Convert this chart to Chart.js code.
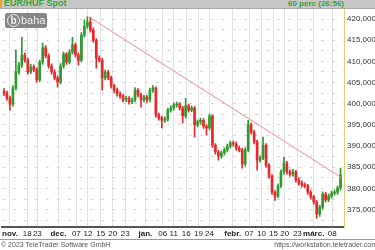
<!DOCTYPE html>
<html>
<head>
<meta charset="utf-8">
<script src="https://cdn.jsdelivr.net/npm/chart.js@4.4.0/dist/chart.umd.min.js"></script>
<style>
  body { margin: 0; background: #fff; }
  #wrap { position: relative; width: 375px; height: 250px; overflow: hidden; font-family: "Liberation Sans", Arial, sans-serif; }
  #head { position: absolute; left: 0; top: 0; width: 375px; height: 8px; background: #c6c6c6; border-bottom: 1px solid #a8a8a8; overflow: hidden; }
  #head .mark { position: absolute; left: 0; top: 0; width: 2px; height: 8px; background: #f0a020; }
  #head .title { position: absolute; left: 4px; top: -2px; font-size: 9px; line-height: 11px; font-weight: bold; color: #37a337; }
  #head .per { position: absolute; right: 31px; top: -2px; font-size: 8px; line-height: 11px; font-weight: bold; color: #37a337; }
  #logo { position: absolute; left: 5px; top: 13px; width: 42px; height: 15px; background: rgba(105,105,105,0.8); border-radius: 2px; }
  #logo .b { position: absolute; left: 2px; top: 1px; width: 11px; height: 11px; border: 1px solid #eee; border-radius: 50%; color: #eee; font-size: 10px; font-weight: bold; line-height: 11px; text-align: center; }
  #logo .t { position: absolute; left: 16px; top: 0px; color: #eee; font-size: 11px; line-height: 15px; }
  #foot { position: absolute; left: 0; top: 239px; width: 375px; height: 11px; border-top: 1px solid #9a9a9a; font-size: 7px; color: #555; line-height: 10px; }
  #foot .l { position: absolute; left: 1px; }
  #foot .r { position: absolute; right: -2px; }
</style>
</head>
<body>
<div id="wrap">
  <canvas id="myChart" width="375" height="250"></canvas>
  <div id="head"><div class="mark"></div><span class="title">EUR/HUF Spot</span><span class="per">60 perc (26:56)</span></div>
  <div id="logo"><div class="b">b</div><div class="t">baha</div></div>
  <div id="foot"><span class="l">© 2023 TeleTrader Software GmbH</span><span class="r">https://workstation.teletrader.com</span></div>
</div>
<script>
const opens = [403.0, 402.5, 401.3, 399.9, 403.7, 407.5, 409.1, 411.5, 410.3, 407.5,
  408.7, 408.0, 405.6, 409.8, 413.2, 411.3, 408.9, 407.5, 406.1, 405.1,
  408.9, 411.7, 409.8, 412.2, 413.9, 411.5, 410.3, 416.2, 418.3, 419.3,
  417.4, 415.0, 410.8, 410.3, 406.1, 407.5, 406.1, 404.2, 403.2, 402.3,
  401.8, 400.9, 401.3, 400.4, 400.9, 403.2, 402.1, 400.9, 401.6, 400.9,
  403.2, 403.7, 397.3, 396.6, 396.1, 396.4, 398.5, 399.0, 399.7, 399.9,
  399.0, 397.1, 399.5, 398.5, 399.0, 395.0, 395.7, 396.1, 394.7, 394.3,
  397.1, 390.2, 388.6, 387.6, 388.4, 389.1, 390.0, 390.7, 390.5, 389.5,
  389.1, 385.8, 389.1, 395.0, 393.3, 391.0, 386.7, 387.2, 390.2, 385.5,
  382.9, 379.1, 378.2, 380.6, 383.9, 386.0, 383.9, 383.4, 383.9, 382.0,
  381.3, 380.8, 380.6, 379.1, 378.0, 376.8, 373.9, 375.6, 378.7, 377.3,
  378.2, 378.9, 379.1, 380.1];
const closes = [402.5, 401.3, 399.9, 403.7, 407.5, 409.1, 411.5, 410.3, 407.5, 408.7,
  408.0, 405.6, 409.8, 413.2, 411.3, 408.9, 407.5, 406.1, 405.1, 408.9,
  411.7, 409.8, 412.2, 413.9, 411.5, 410.3, 416.2, 418.3, 419.3, 417.4,
  415.0, 410.8, 410.3, 406.1, 407.5, 406.1, 404.2, 403.2, 402.3, 401.8,
  400.9, 401.3, 400.4, 400.9, 403.2, 402.1, 400.9, 401.6, 400.9, 403.2,
  403.7, 397.3, 396.6, 396.1, 396.4, 398.5, 399.0, 399.7, 399.9, 399.0,
  397.1, 399.5, 398.5, 399.0, 395.0, 395.7, 396.1, 394.7, 394.3, 397.1,
  390.2, 388.6, 387.6, 388.4, 389.1, 390.0, 390.7, 390.5, 389.5, 389.1,
  385.8, 389.1, 395.0, 393.3, 391.0, 386.7, 387.2, 390.2, 385.5, 382.9,
  379.1, 378.2, 380.6, 383.9, 386.0, 383.9, 383.4, 383.9, 382.0, 381.3,
  380.8, 380.6, 379.1, 378.0, 376.8, 373.9, 375.6, 378.7, 377.3, 378.2,
  378.9, 379.1, 380.1, 383.2];
const highs = [403.6, 403.0, 401.8, 404.3, 412.7, 409.8, 415.7, 412.0, 410.8, 409.3,
  409.2, 408.5, 410.3, 414.3, 413.7, 411.8, 409.4, 408.0, 406.6, 409.5,
  412.2, 412.1, 412.8, 415.7, 414.3, 412.0, 416.8, 419.8, 420.5, 420.4,
  417.9, 415.4, 411.3, 410.7, 408.0, 407.9, 406.5, 404.6, 403.7, 402.8,
  402.2, 401.8, 401.7, 401.4, 403.8, 403.6, 402.5, 402.0, 402.0, 403.7,
  404.3, 404.0, 397.8, 397.0, 396.9, 399.0, 399.5, 400.2, 400.4, 400.3,
  399.4, 401.3, 399.9, 399.5, 399.3, 396.2, 396.6, 396.5, 395.1, 397.6,
  397.4, 390.6, 389.0, 388.9, 389.6, 390.5, 391.2, 391.2, 391.0, 390.0,
  389.5, 389.6, 396.1, 395.5, 393.7, 391.4, 387.7, 392.1, 390.6, 385.9,
  383.3, 379.5, 381.1, 384.4, 387.4, 386.4, 384.4, 384.5, 384.3, 382.5,
  381.8, 381.3, 381.0, 379.5, 378.4, 377.2, 376.1, 379.2, 379.1, 378.7,
  379.4, 379.6, 380.6, 384.8];
const lows = [401.9, 400.8, 398.5, 399.4, 403.2, 407.0, 408.6, 409.8, 407.0, 407.1,
  407.5, 405.1, 405.2, 409.3, 410.8, 408.4, 407.0, 405.6, 403.9, 404.7,
  408.4, 409.3, 409.4, 411.7, 411.0, 409.1, 409.9, 415.7, 417.8, 416.9,
  414.5, 408.4, 409.8, 403.2, 405.6, 405.6, 403.7, 402.7, 401.8, 401.3,
  400.4, 400.5, 399.9, 400.0, 400.4, 401.6, 399.2, 400.4, 400.3, 400.4,
  402.7, 396.8, 396.1, 394.3, 395.6, 395.9, 398.0, 398.5, 399.2, 398.5,
  395.4, 396.6, 398.0, 398.1, 392.1, 394.5, 395.2, 394.2, 392.6, 393.8,
  389.7, 388.1, 386.7, 387.1, 387.9, 388.6, 389.5, 390.0, 389.0, 388.6,
  384.8, 385.3, 388.6, 392.8, 390.5, 384.3, 386.2, 386.8, 385.0, 382.4,
  378.6, 377.2, 377.8, 380.1, 383.4, 383.4, 382.9, 382.9, 381.5, 380.8,
  380.3, 380.1, 378.6, 377.5, 376.3, 373.0, 373.4, 375.1, 376.8, 376.9,
  377.7, 378.4, 378.6, 379.6];

// resistance line, [candle index, price] at both ends
const trendX = [28.5, 113.2];
const trendY = [420.5, 382.6];

// bottom axis: candle index of each label
const xTickPos = [2, 7.8, 11.2, 18.3, 24.3, 28.2, 32.5, 36.5, 40.7, 47.5, 53.3, 57, 61.2,
  65.3, 69, 76.8, 82.3, 86.5, 90.5, 94.3, 98.5, 104, 110.2];
const xTickLabels = ["nov.", "18", "23", "dec.", "07", "12", "15", "20", "23", "jan.", "06", "11", "16",
  "19", "24", "febr.", "07", "10", "15", "20", "23", "márc.", "08"];
const yTicks = [372.5, 375, 377.5, 380, 382.5, 385, 387.5, 390, 392.5, 395, 397.5,
  400, 402.5, 405, 407.5, 410, 412.5, 415, 417.5, 420];

const up = "#2f9a2f";
const down = "#e8292b";
const candleColors = closes.map((c, i) => c >= opens[i] ? up : down);

new Chart("myChart", {
  type: "bar",
  data: {
    datasets: [{
      data: lows.map((l, i) => ({ x: i, y: [l, highs[i]] })),
      backgroundColor: candleColors,
      barThickness: 1,
      grouped: false,
      order: 2
    }, {
      data: opens.map((o, i) => ({ x: i, y: [o, closes[i]] })),
      backgroundColor: candleColors,
      barThickness: 2,
      minBarLength: 1,
      grouped: false,
      order: 1
    }, {
      type: "line",
      data: trendX.map((x, i) => ({ x: x, y: trendY[i] })),
      borderColor: "#f28b8b",
      borderWidth: 1,
      pointRadius: 0,
      order: 0
    }]
  },
  options: {
    responsive: false,
    animation: false,
    devicePixelRatio: 1,
    layout: { padding: { top: 8, bottom: 11, left: 0, right: 0 } },
    plugins: { legend: { display: false }, tooltip: { enabled: false } },
    scales: {
      x: {
        type: "linear",
        min: -0.5,
        max: 114.17,
        offset: false,
        grid: { color: "#e3e3e3", drawTicks: false, offset: false },
        border: { color: "#555", width: 2 },
        afterBuildTicks: (s) => { s.ticks = xTickPos.map(v => ({ value: v })); },
        afterFit: (s) => { s.height = 12; },
        ticks: {
          autoSkip: false,
          maxRotation: 0,
          padding: 2,
          color: "#222",
          font: (ctx) => ({ family: "Liberation Sans", size: 8,
            weight: (xTickLabels[ctx.index] || "").endsWith(".") ? "bold" : "normal" }),
          callback: (v, i) => xTickLabels[i]
        }
      },
      y: {
        position: "right",
        min: 370.9,
        max: 422.6,
        grid: { color: "#c4c4c4", drawTicks: false },
        border: { color: "#e3cf72", width: 1, dash: [2, 9] },
        afterBuildTicks: (s) => { s.ticks = yTicks.map(v => ({ value: v })); },
        afterFit: (s) => { s.width = 31; },
        ticks: {
          autoSkip: false,
          padding: 3,
          color: "#333",
          font: { family: "Liberation Sans", size: 8 },
          callback: (v) => v % 5 === 0 ? v.toFixed(4).replace(".", ",") : ""
        }
      }
    }
  }
});
</script>
</body>
</html>
